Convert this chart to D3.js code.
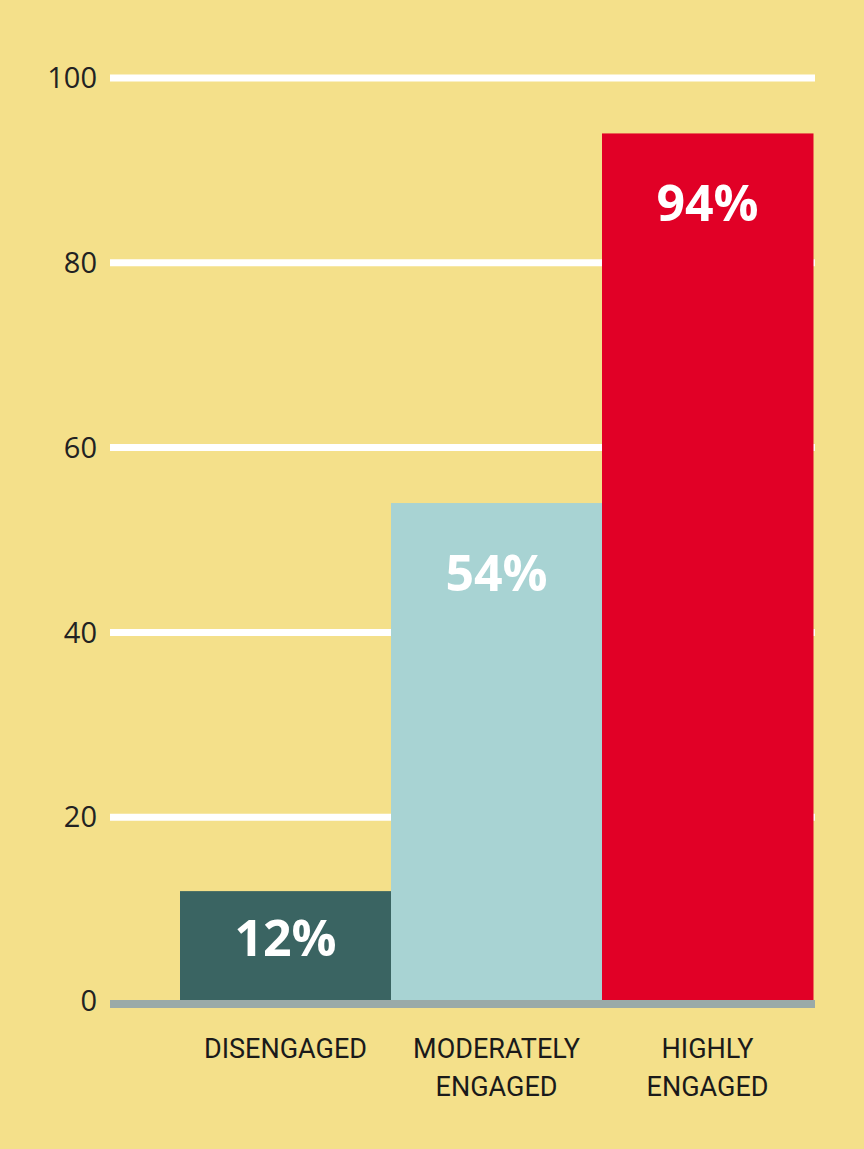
<!DOCTYPE html>
<html><head><meta charset="utf-8">
<script src="https://cdn.jsdelivr.net/npm/d3@7"></script>
<style>body{margin:0;background:#f4e08a}svg{display:block}</style>
</head><body>
<script>
const categories = [["DISENGAGED"],["MODERATELY","ENGAGED"],["HIGHLY","ENGAGED"]];
const values = [12, 54, 94];
const labels = ["12%","54%","94%"];
const colors = ["#3a6462","#a8d3d3","#e10026"];
const ticks = [0,20,40,60,80,100];

const W=864,H=1149;
const svg=d3.select("body").append("svg").attr("width",W).attr("height",H);
svg.append("rect").attr("width",W).attr("height",H).attr("fill","#f4e08a");
const y=d3.scaleLinear().domain([0,100]).range([1002,78]);
const x=d3.scaleBand().domain(d3.range(3)).range([180,813]).padding(0);

svg.selectAll(".grid").data(ticks.filter(t=>t>0)).join("line")
 .attr("x1",110).attr("x2",815).attr("y1",d=>y(d)).attr("y2",d=>y(d))
 .attr("stroke","#fff").attr("stroke-width",7);
svg.selectAll(".tl").data(ticks).join("text")
 .attr("x",97).attr("y",d=>y(d)+(d===0?-1:0)).attr("dy","0.35em").attr("text-anchor","end")
 .attr("font-family","'Open Sans',sans-serif").attr("font-size",29).attr("fill","#222")
 .text(d=>d);
svg.selectAll(".bar").data(values).join("rect")
 .attr("x",(d,i)=>x(i)).attr("width",x.bandwidth()+0.5)
 .attr("y",d=>y(d)).attr("height",d=>y(0)-y(d)).attr("fill",(d,i)=>colors[i]);
svg.append("rect").attr("x",110).attr("width",705).attr("y",y(0)-2).attr("height",8).attr("fill","#9aaaa8");
svg.selectAll(".vl").data(values).join("text")
 .attr("x",(d,i)=>x(i)+x.bandwidth()/2).attr("y",d=>y(d)+(d<20?65:88))
 .attr("text-anchor","middle").attr("font-family","'Open Sans',sans-serif").attr("font-weight","bold")
 .attr("font-size",50).attr("fill","#fff").text((d,i)=>labels[i]);
categories.forEach((c,i)=>{
 c.forEach((line,j)=>{
  svg.append("text").attr("x",x(i)+x.bandwidth()/2-(i===0?-0:0)).attr("y",1058+j*38)
   .attr("text-anchor","middle").attr("font-family","'Roboto',sans-serif").attr("font-size",27)
   .attr("fill","#1a1a1a").attr("textLength",null).text(line);
 });
});
</script></body></html>
